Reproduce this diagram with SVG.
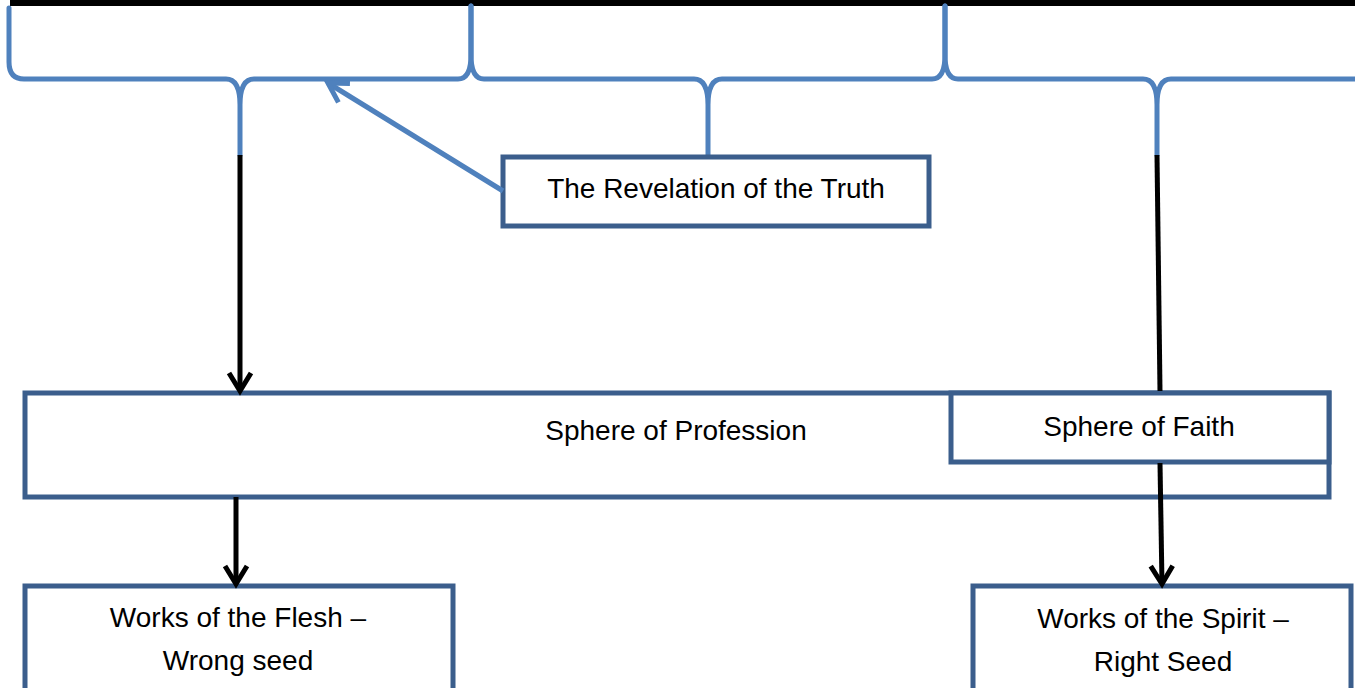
<svg xmlns="http://www.w3.org/2000/svg" width="1355" height="688" viewBox="0 0 1355 688">
<style>
.brace{fill:none;stroke:#4f81bd;stroke-width:5;stroke-linecap:round;stroke-linejoin:round}
.box{fill:#ffffff;stroke:#3b5e8c;stroke-width:5}
.lbl{font-family:"Liberation Sans",Arial,sans-serif;font-size:28px;fill:#000;text-anchor:middle}
.blk{fill:none;stroke:#000;stroke-width:5}
.blu{fill:none;stroke:#4f81bd;stroke-width:5}
</style>
<defs>
<marker id="ab" markerUnits="userSpaceOnUse" orient="auto" refX="0" refY="0" markerWidth="30" markerHeight="30" viewBox="-25 -15 30 30" overflow="visible">
<path d="M-18,-11 L0,0 L-18,11" fill="none" stroke="#000" stroke-width="5" stroke-linejoin="miter"/>
</marker>
<marker id="au" markerUnits="userSpaceOnUse" orient="auto" refX="0" refY="0" markerWidth="30" markerHeight="30" viewBox="-25 -15 30 30" overflow="visible">
<path d="M-19,-11 L0,0 L-19,11" fill="none" stroke="#4f81bd" stroke-width="5" stroke-linejoin="miter"/>
</marker>
</defs>
<rect width="1355" height="688" fill="#ffffff"/>
<g id="topline"><line x1="10" y1="3" x2="1355" y2="3" stroke="#000" stroke-width="6"/></g>
<g id="braces">
<path class="brace" d="M9,8 L9,62 Q9,79 24,79 L226,79 Q240,79 240,105 L240,155 M240,105 Q240,79 254,79 L458,79 Q471,79 471,55 L471,6"/>
<path class="brace" d="M471,6 L471,55 Q471,79 484,79 L694,79 Q708,79 708,105 L708,155 M708,105 Q708,79 722,79 L932,79 Q945,79 945,55 L945,6"/>
<path class="brace" d="M945,6 L945,55 Q945,79 958,79 L1143,79 Q1157,79 1157,105 L1157,155 M1157,105 Q1157,79 1171,79 L1358,79"/>
</g>
<g id="profession"><rect class="box" x="25" y="393" width="1304" height="104"/><text class="lbl" x="676" y="440">Sphere of Profession</text></g>
<g id="faith"><rect class="box" x="951" y="393" width="378" height="69"/><text class="lbl" x="1139" y="436">Sphere of Faith</text></g>
<g id="revelation"><rect class="box" x="503" y="157" width="426" height="69"/><text class="lbl" x="716" y="198">The Revelation of the Truth</text></g>
<g id="flesh"><rect class="box" x="25" y="586" width="428" height="110"/><text class="lbl" x="238" y="627">Works of the Flesh –</text><text class="lbl" x="238" y="670">Wrong seed</text></g>
<g id="spirit"><rect class="box" x="973" y="586" width="378" height="110"/><text class="lbl" x="1163" y="628">Works of the Spirit –</text><text class="lbl" x="1163" y="671">Right Seed</text></g>
<g id="connectors">
<line class="blk" x1="240" y1="155" x2="240" y2="391" marker-end="url(#ab)"/>
<line class="blk" x1="1157" y1="155" x2="1160" y2="391"/>
<line class="blk" x1="236" y1="497" x2="236" y2="584" marker-end="url(#ab)"/>
<line class="blk" x1="1160" y1="463" x2="1162" y2="584" marker-end="url(#ab)"/>
<line class="blu" x1="503" y1="191" x2="328" y2="83" marker-end="url(#au)"/>
</g>
</svg>
